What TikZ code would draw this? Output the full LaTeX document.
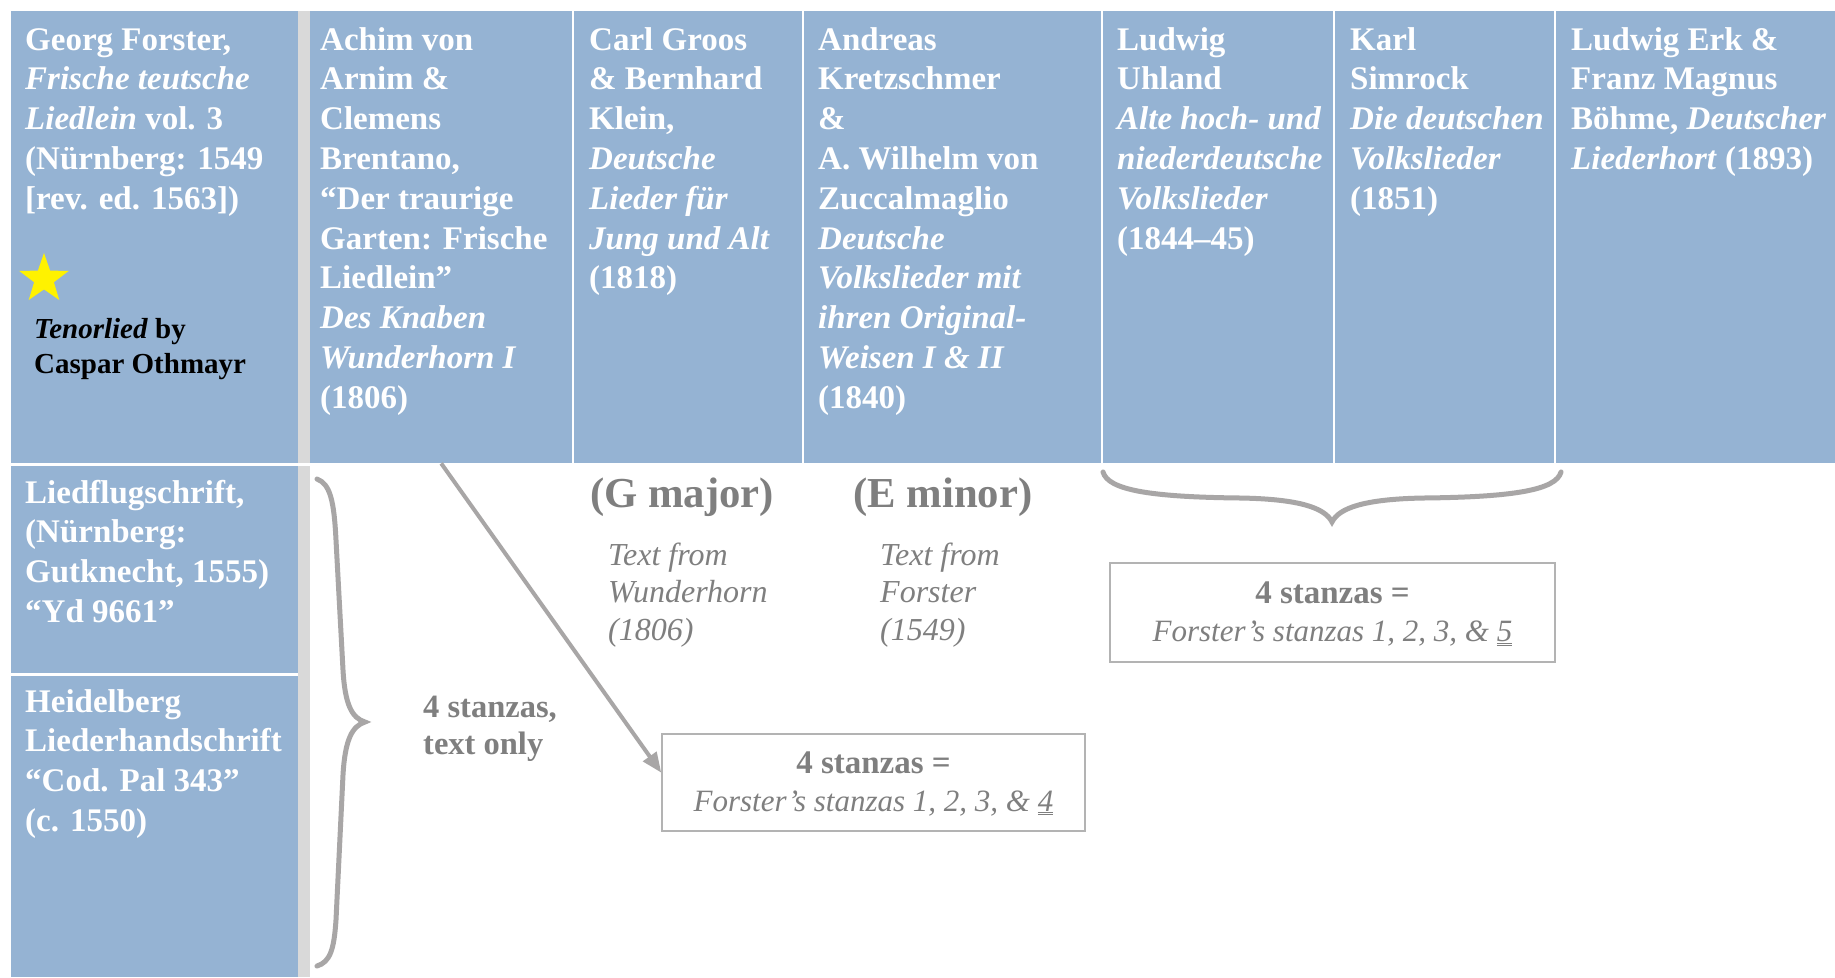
\documentclass[tikz,border=0pt]{standalone}
\usepackage{fontspec}
\setmainfont{Liberation Serif}
\usetikzlibrary{shapes.geometric,arrows.meta,calc}
\definecolor{hblue}{HTML}{95B3D3}
\definecolor{strip}{HTML}{D9D9D9}
\definecolor{gtext}{HTML}{7F7F7F}
\definecolor{gline}{HTML}{A8A6A6}
\definecolor{gbox}{HTML}{B3B3B3}
\newcommand\ml[1]{\begin{tabular}[t]{@{}l@{}}#1\end{tabular}}
\newcommand\mcc[1]{\begin{tabular}[t]{@{}c@{}}#1\end{tabular}}
\newcommand\dul[1]{\underline{\underline{#1}}}
\begin{document}
\begin{tikzpicture}[x=1pt,y=-1pt,
  cell/.style={fill=hblue, inner sep=0, anchor=north west, draw=none},
  stripcell/.style={fill=strip, inner sep=0, anchor=north west, draw=none},
  hdr/.style={anchor=base west, inner sep=0, text=white, font=\fontsize{33}{39.8}\selectfont\bfseries},
  gbold/.style={anchor=base west, inner sep=0, text=gtext, font=\fontsize{32.5}{37}\selectfont\bfseries},
  gital/.style={anchor=base west, inner sep=0, text=gtext, font=\fontsize{32}{37.5}\selectfont\itshape},
  gkey/.style={anchor=base west, inner sep=0, text=gtext, font=\fontsize{42.7}{50}\selectfont\bfseries},
  stanzabox/.style={draw=gbox, line width=1.5pt, inner sep=0},
  boxtext/.style={anchor=base, inner sep=0, text=gtext, font=\fontsize{31}{38}\selectfont},
  bracepath/.style={draw=gline, line width=5pt, line cap=round},
  conn/.style={draw=gline, line width=4pt, -{Triangle[length=20pt,width=16pt]}}]
\useasboundingbox (0,0) rectangle (1835,977);
\fill[white] (0,0) rectangle (1835,977);
% header cells
\node[cell, minimum width=287pt, minimum height=452pt] (c1) at (11,11) {};
\node[stripcell, minimum width=12pt, minimum height=452pt] (s1) at (298,11) {};
\node[cell, minimum width=262pt, minimum height=452pt] (c2) at (310,11) {};
\node[cell, minimum width=228pt, minimum height=452pt] (c3) at (574,11) {};
\node[cell, minimum width=297pt, minimum height=452pt] (c4) at (804,11) {};
\node[cell, minimum width=230pt, minimum height=452pt] (c5) at (1103,11) {};
\node[cell, minimum width=219pt, minimum height=452pt] (c6) at (1335,11) {};
\node[cell, minimum width=279pt, minimum height=452pt] (c7) at (1556,11) {};
% left column rows
\node[cell, minimum width=287pt, minimum height=207pt] (r2) at (11,466) {};
\node[cell, minimum width=287pt, minimum height=301pt] (r3) at (11,676) {};
\node[stripcell, minimum width=12pt, minimum height=511pt] (s2) at (298,466) {};
% header texts
\node[hdr] (t1) at (25,50) {\ml{Georg Forster,\\\textit{Frische teutsche}\\\textit{Liedlein} vol. 3\\(Nürnberg: 1549\\{[rev. ed. 1563])}}};
\node[hdr] (t2) at (320,50) {\ml{Achim von\\Arnim \&\\Clemens\\Brentano,\\“Der traurige\\Garten: Frische\\Liedlein”\\\textit{Des Knaben}\\\textit{Wunderhorn I}\\(1806)}};
\node[hdr] (t3) at (589,50) {\ml{Carl Groos\\\& Bernhard\\Klein,\\\textit{Deutsche}\\\textit{Lieder für}\\\textit{Jung und Alt}\\(1818)}};
\node[hdr] (t4) at (818,50) {\ml{Andreas\\Kretzschmer\\\&\\A. Wilhelm von\\Zuccalmaglio\\\textit{Deutsche}\\\textit{Volkslieder mit}\\\textit{ihren Original-}\\\textit{Weisen I \& II}\\(1840)}};
\node[hdr] (t5) at (1117,50) {\ml{Ludwig\\Uhland\\\textit{Alte hoch- und}\\\textit{niederdeutsche}\\\textit{Volkslieder}\\(1844–45)}};
\node[hdr] (t6) at (1350,50) {\ml{Karl\\Simrock\\\textit{Die deutschen}\\\textit{Volkslieder}\\(1851)}};
\node[hdr] (t7) at (1571,50) {\ml{Ludwig Erk \&\\Franz Magnus\\Böhme, \textit{Deutscher}\\\textit{Liederhort} (1893)}};
% star and Tenorlied
\node[star, star points=5, star point ratio=2.5, fill=yellow, draw=none, inner sep=0, minimum size=52pt] (star) at (44,279) {};
\node[anchor=base west, inner sep=0, font=\fontsize{29}{35}\selectfont\bfseries] (ten) at (34,338) {\ml{\textit{Tenorlied} by\\Caspar Othmayr}};
% left rows texts
\node[hdr] (t8) at (25,503) {\ml{Liedflugschrift,\\(Nürnberg:\\Gutknecht, 1555)\\“Yd 9661”}};
\node[hdr] (t9) at (25,712) {\ml{Heidelberg\\Liederhandschrift\\“Cod. Pal 343”\\(c. 1550)}};
% lower annotations
\node[gkey] (gmaj) at (590,507) {(G major)};
\node[gkey] (emin) at (853,507) {(E minor)};
\node[gital] (tw) at (608,565) {\ml{Text from\\Wunderhorn\\(1806)}};
\node[gital] (tf) at (880,565) {\ml{Text from\\Forster\\(1549)}};
\node[gbold] (four) at (423,717) {\ml{4 stanzas,\\text only}};
\node[stanzabox, minimum width=423pt, minimum height=97pt] (box1) at (873.5,782.5) {};
\node[boxtext] (box1t) at (873.5,773) {\mcc{\fontsize{33}{38}\selectfont\bfseries 4 stanzas =\\\itshape Forster’s stanzas 1, 2, 3, \& \dul{4}}};
\node[stanzabox, minimum width=445pt, minimum height=99pt] (box2) at (1332.5,612.5) {};
\node[boxtext] (box2t) at (1332.5,603) {\mcc{\fontsize{33}{38}\selectfont\bfseries 4 stanzas =\\\itshape Forster’s stanzas 1, 2, 3, \& \dul{5}}};
% braces
\draw[bracepath] (317,479) .. controls (330,484) and (334,500) .. (336,540) -- (343,670) .. controls (345,705) and (352,718) .. (365,722) .. controls (352,726) and (345,740) .. (343,775) -- (336,920) .. controls (334,950) and (330,962) .. (317,966);
\draw[bracepath] (1103,472) .. controls (1108,490) and (1150,497) .. (1240,498) .. controls (1300,499) and (1325,508) .. (1332,522) .. controls (1339,508) and (1364,499) .. (1424,498) .. controls (1514,497) and (1556,490) .. (1561,472);
% arrow
\draw[conn] (c2.south) -- ($(box1.north west)!0.4!(box1.south west)$);
\end{tikzpicture}
\end{document}
